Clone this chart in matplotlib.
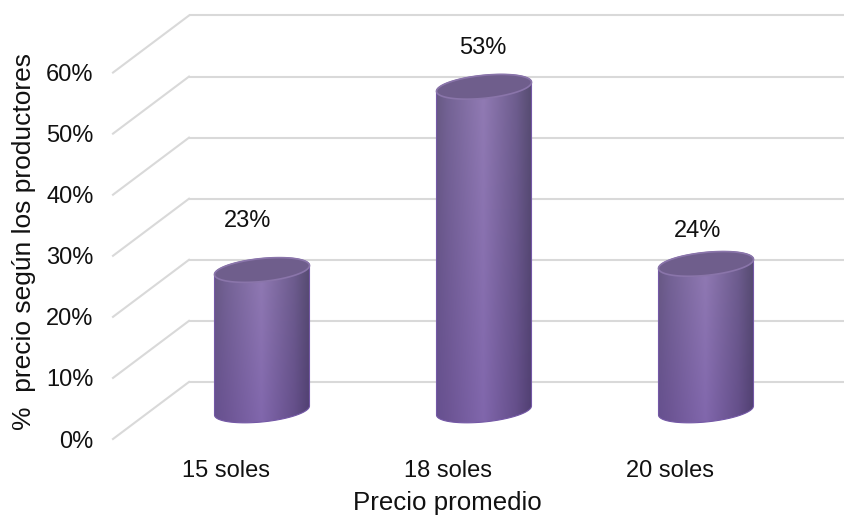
import numpy as np
from matplotlib import pyplot as plt
from matplotlib.patches import Polygon

categories = ['15 soles', '18 soles', '20 soles']
values = [23, 53, 24]
value_labels = ['23%', '53%', '24%']
y_ticks = [0, 10, 20, 30, 40, 50, 60]
y_tick_labels = ['0%', '10%', '20%', '30%', '40%', '50%', '60%']

W, H = 845, 516
PX_X = 222.0   # pixels per category
PX_Y = 6.1     # pixels per percent
DEPTH_X = 76 / PX_X
DEPTH_Y = 57 / PX_Y
GRID = '#d9d9d9'
TEXT = '#111111'

plt.rcParams['font.family'] = ['Liberation Sans', 'DejaVu Sans']

fig = plt.figure(figsize=(W / 100, H / 100), dpi=100)
ax = fig.add_axes([113 / W, 1 - 439 / H, 742 / W, (439 - 15.5) / H])
ax.patch.set_alpha(0)
for s in ax.spines.values():
    s.set_visible(False)

# pared del fondo y pared lateral
for v in y_ticks:
    ax.plot([-0.5, 2.5], [v, v], color=GRID, lw=1.5, zorder=1, solid_capstyle='butt', clip_on=False)
    ax.plot([-0.5 - DEPTH_X, -0.5], [v - DEPTH_Y, v], color=GRID, lw=1.5, zorder=1, clip_on=False)


def ellipse_pts(cx, cy, t):
    # elipse inclinada, sube hacia la derecha
    x = cx + 47.5 * np.cos(t) / PX_X
    y = cy + (11.5 * np.sin(t) + 4.5 * np.cos(t)) / PX_Y
    return np.column_stack([x, y])


def body_colors(nrows=120, ncols=96):
    u = np.linspace(0, 1, ncols)
    pos = [0, 0.12, 0.5, 0.85, 1]
    top = np.array([[104, 90, 130], [116, 100, 148], [146, 124, 180], [110, 94, 142], [88, 78, 114]])
    bot = np.array([[102, 80, 144], [108, 84, 148], [128, 102, 172], [100, 78, 138], [82, 64, 116]])
    img = np.zeros((nrows, ncols, 3))
    for r in range(nrows):
        f = r / (nrows - 1)
        for c in range(3):
            img[r, :, c] = np.interp(u, pos, top[:, c] * (1 - f) + bot[:, c] * f)
    return img / 255


t_low = np.linspace(np.pi, 2 * np.pi, 80)
t_up = np.linspace(0, np.pi, 80)
t_all = np.linspace(0, 2 * np.pi, 160)
half_w = 47.5 / PX_X

# cilindros, a media profundidad
for i, v in enumerate(values):
    cx = i - DEPTH_X / 2
    base = -DEPTH_Y / 2
    top = v - DEPTH_Y / 2
    pts = np.vstack([ellipse_pts(cx, base, t_low), ellipse_pts(cx, top, t_up)])
    body = Polygon(pts, closed=True, facecolor='none', edgecolor='#7458a6', lw=0.8, zorder=3)
    ax.add_patch(body)
    im = ax.imshow(body_colors(), extent=[cx - half_w, cx + half_w, base - 3, top + 3],
                   aspect='auto', zorder=2, interpolation='bilinear')
    im.set_clip_path(body)
    cap = Polygon(ellipse_pts(cx, top, t_all), closed=True, facecolor='#6f5e8c',
                  edgecolor='#8a75aa', lw=1.2, zorder=4)
    ax.add_patch(cap)

# etiquetas de valor, desplazadas respecto a cada cilindro
label_dx = [-0.234, -0.175, -0.207]
label_dy = [3.4, 1.7, 0.7]
for i, v in enumerate(values):
    ax.text(i + label_dx[i], v + label_dy[i], value_labels[i], ha='center', va='center',
            fontsize=17, color=TEXT)

ax.set_xlim(-0.5 - DEPTH_X, 2.5)
ax.set_ylim(-DEPTH_Y, 60)

ax.set_xticks([i - DEPTH_X + 0.01 for i in range(3)])
ax.set_xticklabels(categories)
ax.set_yticks([v - DEPTH_Y for v in y_ticks])
ax.set_yticklabels(y_tick_labels)
ax.tick_params(axis='x', length=0, pad=15, labelsize=17, labelcolor=TEXT)
ax.tick_params(axis='y', length=0, pad=14, labelsize=17, labelcolor=TEXT)

fig.text(447 / W, 1 - 510 / H, 'Precio promedio', ha='center', va='baseline', fontsize=18.6, color=TEXT)
fig.text(24 / W, 1 - 242 / H, '%  precio según los productores', rotation=90, ha='center', va='center',
         fontsize=19, color=TEXT)

fig.savefig('out.png', dpi=100)
